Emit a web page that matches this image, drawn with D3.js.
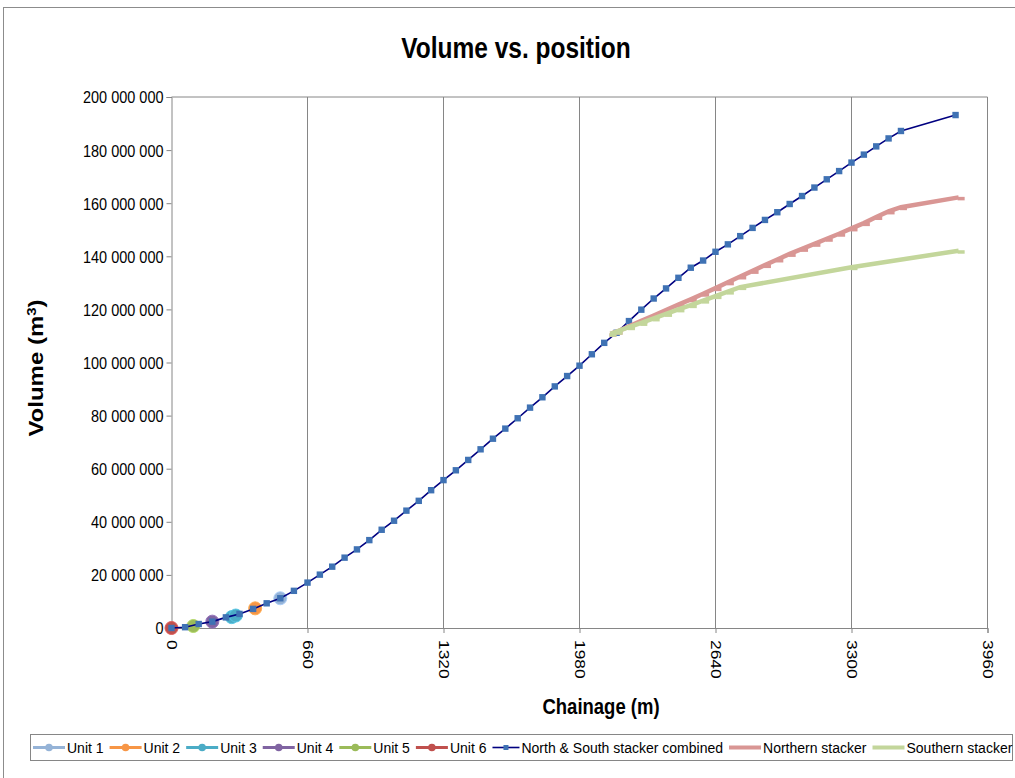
<!DOCTYPE html>
<html><head><meta charset="utf-8">
<script src="https://cdn.jsdelivr.net/npm/d3@7"></script>
<style>body{margin:0;background:#fff} text{font-family:"Liberation Sans",Arial,sans-serif;fill:#000}</style>
</head><body><svg id="c" width="1015" height="778"></svg>
<script>
// ---------- data (volumes in millions of m³) ----------
const xTicks = [0, 660, 1320, 1980, 2640, 3300, 3960];
const yTicks = [0, 20, 40, 60, 80, 100, 120, 140, 160, 180, 200];

const combinedChainage = [0,66,132,198,264,330,396,462,528,594,660,720,780,840,900,960,1020,1080,1140,1200,1260,1320,1380,1440,1500,1560,1620,1680,1740,1800,1860,1920,1980,2040,2100,2160,2220,2280,2340,2400,2460,2520,2580,2640,2700,2760,2820,2880,2940,3000,3060,3120,3180,3240,3300,3360,3420,3480,3540,3805];
const combinedVolume = [0,0.3,1.5,2.4,4.0,5.3,7.2,9.3,11.2,14.0,17.1,20.1,23.1,26.5,29.6,33.1,37.0,40.4,44.2,47.9,51.9,55.7,59.4,63.3,67.3,71.3,75.1,79.0,83.0,86.9,91.0,94.9,98.8,103.1,107.4,111.2,115.6,119.9,124.1,127.9,131.9,135.7,138.4,141.7,144.5,147.6,150.7,153.7,156.6,159.7,162.7,165.9,169.0,172.1,175.3,178.3,181.4,184.4,187.2,193.2];

const northernChainage = [2130,2160,2220,2280,2340,2400,2460,2520,2580,2640,2700,2760,2820,2880,2940,3000,3060,3120,3180,3240,3300,3360,3420,3480,3540,3820];
const northernVolume = [110.8,111.6,113.6,115.7,117.7,119.8,121.8,123.8,125.9,128.0,130.2,132.4,134.5,136.7,138.8,140.9,142.8,144.7,146.6,148.5,150.5,152.5,154.8,156.9,158.5,162.2];

const southernChainage = [2130,2160,2220,2280,2340,2400,2460,2520,2580,2640,2700,2760,3300,3820];
const southernVolume = [110.8,111.6,113.3,114.9,116.6,118.3,120.0,121.6,123.3,125.0,126.7,128.4,135.9,142.1];

const unitNames = ["Unit 1","Unit 2","Unit 3","Unit 4","Unit 5","Unit 6"];
const unitColors = ["#95b3d7","#f79646","#4bacc6","#8064a2","#9bbb59","#c0504d"];
const unitChainage = [[528],[406],[292,312],[198],[106],[0]];
const unitVolume = [[11.2],[7.4],[4.1,4.7],[2.4],[0.75],[0]];

// ---------- layout ----------
const svg = d3.select("#c");
const VS = 1.2; // vertical text stretch
const x = d3.scaleLinear().domain([0, 3960]).range([171.5, 987.5]);
const y = d3.scaleLinear().domain([0, 200]).range([628, 97]);
const grey = "#868686";

svg.append("rect").attr("x",3.5).attr("y",7.5).attr("width",1020).attr("height",780)
  .attr("fill","#fff").attr("stroke","#8c8c8c");

function txt(g, s, tx, ty, size, weight, anchor, rot) {
  return g.append("text").text(s)
    .attr("transform", `translate(${tx},${ty}) scale(1,${VS})` + (rot ? ` rotate(${rot})` : ""))
    .attr("font-size", size).attr("font-weight", weight || "normal")
    .attr("text-anchor", anchor || "middle");
}
txt(svg, "Volume vs. position", 516, 58, 24.5, "bold");

// plot border (top) and gridlines
svg.append("g").selectAll("line").data(xTicks.slice(1)).join("line")
  .attr("x1", d=>x(d)).attr("x2", d=>x(d)).attr("y1", y(200)).attr("y2", y(0))
  .attr("stroke", grey).attr("stroke-width", 1);
svg.append("line").attr("x1", x(0)).attr("x2", x(3960)).attr("y1", y(200)).attr("y2", y(200))
  .attr("stroke", grey);

// axes
const fmt = v => d3.format(",")(v * 1e6).replace(/,/g, " ");
const yAxis = svg.append("g").attr("transform", `translate(${x(0)},0)`)
  .call(d3.axisLeft(y).tickValues(yTicks).tickSize(5).tickFormat(fmt));
yAxis.selectAll("text").attr("font-size", 14.5).attr("x", -8).attr("dy", "0.34em")
  .attr("transform", `scale(1,${VS})`).attr("y", 0)
  .style("font-family", "'Liberation Sans',Arial,sans-serif").attr("fill", "#000");
const xAxis = svg.append("g").attr("transform", `translate(0,${y(0)})`)
  .call(d3.axisBottom(x).tickValues(xTicks).tickSize(5).tickFormat(d3.format("d")));
xAxis.selectAll("text").attr("font-size", 14.5).attr("x", 10).attr("y", 0).attr("dy", "0.35em")
  .attr("transform", `scale(1,${VS}) rotate(90)`).style("text-anchor", "start")
  .style("font-family", "'Liberation Sans',Arial,sans-serif").attr("fill", "#000");
svg.selectAll(".domain").attr("stroke", grey);
svg.selectAll(".tick line").attr("stroke", grey);

// axis titles
txt(svg, "Chainage (m)", 601, 714, 18.5, "bold");
const vt = txt(svg, "Volume (m", 43, 368, 20, "bold", "middle", -90);
vt.append("tspan").text("3").attr("font-size", 12.5).attr("dy", -7);
vt.append("tspan").text(")").attr("dy", 7);

const line = d3.line().x(d => x(d[0])).y(d => y(d[1]));

// units
unitNames.forEach((n, i) => {
  const pts = unitChainage[i].map((c, j) => [c, unitVolume[i][j]]);
  svg.append("path").attr("d", line(pts)).attr("fill", "none")
    .attr("stroke", unitColors[i]).attr("stroke-width", 3);
  svg.append("g").selectAll("circle").data(pts).join("circle")
    .attr("cx", d => x(d[0])).attr("cy", d => y(d[1])).attr("r", 6.5)
    .attr("fill", unitColors[i]).attr("stroke", d3.color(unitColors[i]).brighter(0.4)).attr("stroke-width", 1);
});

// combined
const comb = combinedChainage.map((c, i) => [c, combinedVolume[i]]);
svg.append("path").attr("d", line(comb)).attr("fill", "none")
  .attr("stroke", "#000080").attr("stroke-width", 1.6);
svg.append("g").selectAll("rect").data(comb).join("rect")
  .attr("x", d => x(d[0]) - 3.2).attr("y", d => y(d[1]) - 3.2).attr("width", 6.4).attr("height", 6.4)
  .attr("fill", "#3f72b4");

// stackers
function stacker(ch, vol, col) {
  const pts = ch.map((c, i) => [c, vol[i]]);
  svg.append("path").attr("d", line(pts)).attr("fill", "none")
    .attr("stroke", col).attr("stroke-width", 4.5);
  svg.append("g").selectAll("rect").data(pts).join("rect")
    .attr("x", d => x(d[0]) - 1).attr("y", d => y(d[1]) - 0.5).attr("width", 7).attr("height", 3.5)
    .attr("fill", col);
}
stacker(northernChainage, northernVolume, "#d99694");
stacker(southernChainage, southernVolume, "#c3d69b");

// legend
const lg = svg.append("g");
lg.append("rect").attr("x", 30.5).attr("y", 734.5).attr("width", 982).attr("height", 26)
  .attr("fill", "#fff").attr("stroke", grey);
const items = unitNames.map((n, i) => ({name: n, color: unitColors[i], type: "unit"}))
  .concat([{name: "North & South stacker combined", color: "#000080", type: "comb"},
           {name: "Northern stacker", color: "#d99694", type: "stk"},
           {name: "Southern stacker", color: "#c3d69b", type: "stk"}]);
let lx = 33;
const ly = 747.5;
items.forEach(it => {
  const sw = it.type === "comb" ? 27 : 32;
  lg.append("line").attr("x1", lx).attr("x2", lx + sw).attr("y1", ly).attr("y2", ly)
    .attr("stroke", it.color).attr("stroke-width", it.type === "unit" ? 3 : it.type === "comb" ? 1.6 : 4);
  if (it.type === "unit") lg.append("circle").attr("cx", lx + sw / 2).attr("cy", ly).attr("r", 3.8).attr("fill", it.color);
  if (it.type === "comb") lg.append("rect").attr("x", lx + sw / 2 - 2.5).attr("y", ly - 2.5).attr("width", 5).attr("height", 5).attr("fill", "#3f72b4");
  const t = lg.append("text").text(it.name).attr("x", lx + sw + 2).attr("y", ly + 5).attr("font-size", 14);
  lx = lx + sw + 2 + t.node().getComputedTextLength() + 6;
});
</script></body></html>
